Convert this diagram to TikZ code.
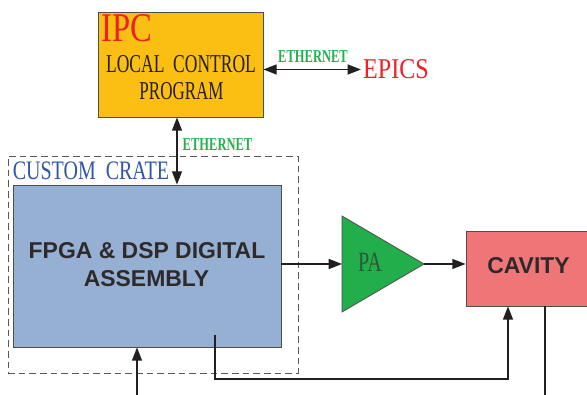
\documentclass[tikz,border=0pt]{standalone}
\usepackage{fontspec}
\usepackage{graphicx}
\setmainfont{Liberation Serif}
\newfontfamily\arialfont{Liberation Sans}
\usetikzlibrary{arrows.meta}
\definecolor{ipcfill}{RGB}{251,191,20}
\definecolor{fpgafill}{RGB}{149,176,210}
\definecolor{pafill}{RGB}{34,175,75}
\definecolor{cavfill}{RGB}{240,117,119}
\definecolor{redtxt}{RGB}{238,32,36}
\definecolor{greentxt}{RGB}{34,176,76}
\definecolor{bluetxt}{RGB}{47,86,166}
\definecolor{linec}{RGB}{35,31,32}
\definecolor{patxt}{RGB}{45,85,55}
\newcommand{\sqz}[2]{\scalebox{#1}[1]{#2}}
\tikzset{
  box/.style={draw=linec!80, line width=0.6pt, inner sep=0pt},
  lbl/.style={inner sep=0pt},
  conn/.style={draw=linec, line width=1.1pt},
  tip/.style={-{Triangle[length=10pt,width=7.5pt]}},
  dtip/.style={{Triangle[length=10pt,width=7.5pt]}-{Triangle[length=10pt,width=7.5pt]}},
}
\begin{document}
\begin{tikzpicture}[x=0.75pt,y=-0.75pt]
\useasboundingbox (0,0) rectangle (587,395);
\clip (0,0) rectangle (587,395);
% crate
\node[draw=linec!75, dashed, dash pattern=on 5pt off 3pt, line width=0.7pt, minimum width=217.5pt, minimum height=162.75pt, inner sep=0pt] (crate) at (153,264.5) {};
% boxes
\node[box, fill=ipcfill, minimum width=123.75pt, minimum height=78.75pt] (ipc) at (180.5,64.5) {};
\node[box, fill=fpgafill, minimum width=201pt, minimum height=121.5pt] (fpga) at (147,266) {};
\node[box, fill=cavfill, minimum width=93.75pt, minimum height=56.25pt] (cav) at (528.5,268.5) {};
\draw[draw=linec!80, line width=0.6pt, fill=pafill] (342,216) -- (424,264) -- (342,312) -- cycle;
\coordinate (pain) at (342,264);
\coordinate (paout) at (424,264);
% texts
\node[lbl, text=redtxt, font=\fontsize{30.6}{32}\selectfont] (ipct) at (127,28.5) {\sqz{0.8}{IPC}};
\node[lbl, text=linec, font=\fontsize{19.3}{20}\selectfont] (lcp1) at (181,64.5) {\sqz{0.68}{LOCAL\ \ CONTROL}};
\node[lbl, text=linec, font=\fontsize{19.3}{20}\selectfont] (lcp2) at (181.5,91.5) {\sqz{0.66}{PROGRAM}};
\node[lbl, text=greentxt, font=\bfseries\fontsize{13.6}{14}\selectfont] (eth1) at (313,56.5) {\sqz{0.69}{ETHERNET}};
\node[lbl, inner xsep=1.5pt, text=redtxt, font=\fontsize{21.5}{22}\selectfont] (epics) at (396,69.5) {\sqz{0.84}{EPICS}};
\node[lbl, text=greentxt, font=\bfseries\fontsize{13.6}{14}\selectfont] (eth2) at (217.5,145) {\sqz{0.69}{ETHERNET}};
\node[lbl, text=bluetxt, font=\fontsize{20}{21}\selectfont] (crt) at (91,171) {\sqz{0.75}{CUSTOM\ \ CRATE}};
\node[lbl, text=linec!95, font=\arialfont\bfseries\fontsize{17.2}{18}\selectfont] (f1) at (147,251) {FPGA \& DSP DIGITAL};
\node[lbl, text=linec!95, font=\arialfont\bfseries\fontsize{17.2}{18}\selectfont] (f2) at (146.5,278.5) {ASSEMBLY};
\node[lbl, text=patxt, font=\fontsize{21}{22}\selectfont] (pat) at (370,262.5) {\sqz{0.72}{PA}};
\node[lbl, text=linec!95, font=\arialfont\bfseries\fontsize{17.2}{18}\selectfont] (cavt) at (528.5,266) {CAVITY};
% connectors
\coordinate (bus) at (177,150);
\coordinate (fbstart) at (215,335);
\coordinate (fbx) at (508,379);
\coordinate (inp) at (137,395);
\coordinate (outp) at (545,395);
\draw[conn, dtip] (ipc.east |- epics.west) -- (epics.west);
\draw[conn, dtip] (bus |- ipc.south) -- (bus |- fpga.north);
\draw[conn, tip] (fpga.east |- pain) -- (pain);
\draw[conn, tip] (paout) -- (paout -| cav.west);
\draw[conn, tip] (fbstart) |- (fbx) -- (fbx |- cav.south);
\draw[conn, tip] (inp) -- (inp |- fpga.south);
\draw[conn] (outp |- cav.south) -- (outp);
\end{tikzpicture}
\end{document}
